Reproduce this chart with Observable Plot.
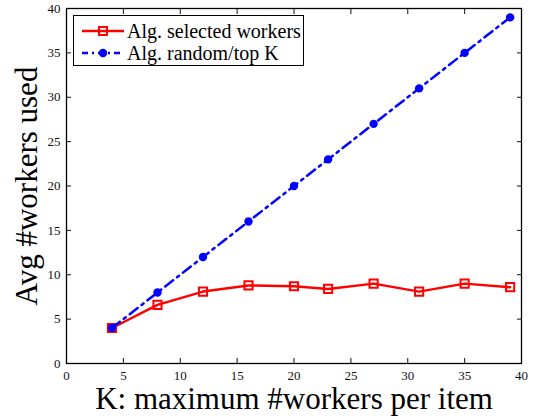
<!DOCTYPE html>
<html>
<head>
<meta charset="utf-8">
<script src="https://cdn.jsdelivr.net/npm/d3@7"></script>
<script src="https://cdn.jsdelivr.net/npm/@observablehq/plot@0.6"></script>
<style>
  body { margin: 0; background: #fff; }
  #wrap { position: relative; width: 533px; height: 417px; font-family: "Liberation Serif", "DejaVu Serif", serif; }
  #legend { position: absolute; left: 73px; top: 15px; width: 231px; height: 51px; border: 1px solid #000; background: #fff; box-sizing: border-box; }
  .row { position: absolute; left: 0; height: 22px; display: flex; align-items: center; font-size: 20px; color: #000; white-space: nowrap; }
  .row svg { margin-left: 8px; margin-right: 3px; }
</style>
</head>
<body>
<div id="wrap"></div>
<script>
const K = [4, 8, 12, 16, 20, 23, 27, 31, 35, 39];
const selectedWorkers = [4.0, 6.6, 8.1, 8.8, 8.7, 8.4, 9.0, 8.1, 9.0, 8.6];
const randomTopK = [4, 8, 12, 16, 20, 23, 27, 31, 35, 39];
const xTicks = [0, 5, 10, 15, 20, 25, 30, 35, 40];
const yTicks = [0, 5, 10, 15, 20, 25, 30, 35, 40];
const seriesNames = ["Alg. selected workers", "Alg. random/top K"];
const xLabel = "K: maximum #workers per item";
const yLabel = "Avg #workers used";

const red = K.map((k, i) => ({k, v: selectedWorkers[i]}));
const blue = K.map((k, i) => ({k, v: randomTopK[i]}));
const blank = () => null;

const chart = Plot.plot({
  width: 533,
  height: 417,
  marginLeft: 66,
  marginRight: 12,
  marginTop: 8,
  marginBottom: 54,
  style: {fontFamily: "Liberation Serif, serif", fontSize: "13px", color: "#111", background: "#fff", overflow: "visible"},
  x: {domain: [0, 40], ticks: xTicks},
  y: {domain: [0, 40], ticks: yTicks},
  marks: [
    Plot.axisX({ticks: xTicks, tickSize: 0, tickPadding: 7, label: null, fontSize: 13}),
    Plot.axisY({ticks: yTicks, tickSize: 0, tickPadding: 6, label: null, fontSize: 13}),
    Plot.axisX({anchor: "bottom", ticks: xTicks, tickSize: -5, tickFormat: blank, label: null}),
    Plot.axisX({anchor: "top", ticks: xTicks, tickSize: -5, tickFormat: blank, label: null}),
    Plot.axisY({anchor: "left", ticks: yTicks, tickSize: -5, tickFormat: blank, label: null}),
    Plot.axisY({anchor: "right", ticks: yTicks, tickSize: -5, tickFormat: blank, label: null}),
    Plot.frame({stroke: "#000", strokeWidth: 1.3}),
    Plot.line(red, {x: "k", y: "v", stroke: "#ff0000", strokeWidth: 2.5}),
    Plot.dot(red, {x: "k", y: "v", symbol: "square", r: 4.6, stroke: "#ff0000", strokeWidth: 2, fill: "none"}),
    Plot.line(blue, {x: "k", y: "v", stroke: "#0000ff", strokeWidth: 2.5, strokeDasharray: "10,5,2.5,5"}),
    Plot.dot(blue, {x: "k", y: "v", r: 4.2, fill: "#0000ff", stroke: "none"}),
    Plot.text([yLabel], {frameAnchor: "left", dx: -39, rotate: -90, textAnchor: "middle", lineAnchor: "middle", fontSize: 31, fill: "#000", text: d => d}),
    Plot.text([xLabel], {frameAnchor: "bottom", dy: 36, textAnchor: "middle", lineAnchor: "middle", fontSize: 31, fill: "#000", text: d => d})
  ]
});

const wrap = document.getElementById("wrap");
wrap.appendChild(chart);

const legend = document.createElement("div");
legend.id = "legend";
legend.innerHTML = `
  <div class="row" style="top:4px">
    <svg width="42" height="12"><line x1="0" y1="6" x2="42" y2="6" stroke="#ff0000" stroke-width="2.5"/><rect x="17" y="2" width="8" height="8" fill="none" stroke="#ff0000" stroke-width="2"/></svg>
    <span>${seriesNames[0]}</span>
  </div>
  <div class="row" style="top:26px">
    <svg width="42" height="12"><line x1="0" y1="6" x2="42" y2="6" stroke="#0000ff" stroke-width="2.5" stroke-dasharray="6,4,2,4"/><circle cx="21" cy="6" r="4.2" fill="#0000ff"/></svg>
    <span>${seriesNames[1]}</span>
  </div>`;
wrap.appendChild(legend);
</script>
</body>
</html>
